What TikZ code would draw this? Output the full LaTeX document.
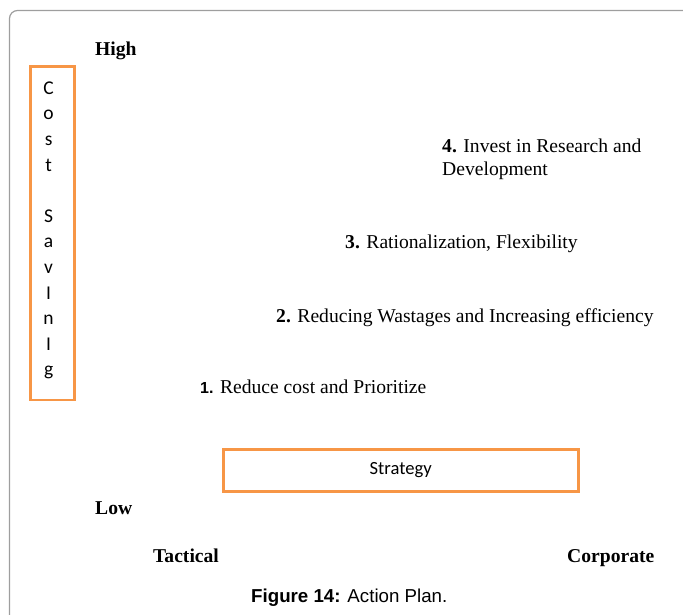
\documentclass[tikz,border=0pt]{standalone}
\usepackage{fontspec}
\setmainfont{Liberation Serif}
\newfontfamily\captionfont{Liberation Sans}
\newfontfamily\boxfont{Carlito}
\definecolor{boxorange}{HTML}{F79646}
\definecolor{framegrey}{HTML}{9E9E9E}
\newcommand{\numsans}[1]{{\captionfont\fontsize{16}{19}\selectfont\bfseries #1}}

\begin{document}
\begin{tikzpicture}[x=1pt,y=-1pt,
    orangebox/.style={draw=boxorange,line width=2.8pt,inner sep=0pt},
    plaintext/.style={inner sep=0pt,font=\fontsize{19.6}{23.4}\selectfont,align=left},
    axislabel/.style={plaintext,font=\fontsize{19.6}{23.4}\selectfont\bfseries}]
    \useasboundingbox (0,0) rectangle (683,614);
    \begin{scope}
      \clip (0,0) rectangle (683,614);
      \draw[framegrey,line width=1.2pt,rounded corners=8pt] (9.5,10.5) rectangle (700,660);
    \end{scope}
    \node[axislabel,anchor=base west] (high) at (95,55) {High};
    \node[axislabel,anchor=base west] (low) at (95,514) {Low};
    \node[axislabel,anchor=base west] (tactical) at (153,562) {Tactical};
    \node[axislabel,anchor=base west] (corporate) at (567,562) {Corporate};
    % vertical axis label and its box
    \node[inner sep=0pt,align=center,font=\boxfont\fontsize{19.5}{25.6}\selectfont] (costsaving) at (48.6,230.5)
      {C\\o\\s\\t\\[25.6pt]S\\a\\v\\I\\n\\I\\g};
    \draw[orangebox] (30.5,66.3) rectangle (74.7,400);
    \node[plaintext,anchor=base west] (step4) at (442,175.4) {\textbf{4.} Invest in Research and\\Development};
    \node[plaintext,anchor=base west] (step3) at (345,248) {\textbf{3.} Rationalization, Flexibility};
    \node[plaintext,anchor=base west] (step2) at (276,322) {\textbf{2.} Reducing Wastages and Increasing efficiency};
    \node[plaintext,anchor=base west] (step1) at (200,393) {\numsans{1.} Reduce cost and Prioritize};
    \node[orangebox,minimum width=355pt,minimum height=41.6pt,
      font=\boxfont\fontsize{18.6}{22}\selectfont] (strategy) at (400.7,470.5) {Strategy};
    \node[inner sep=0pt,anchor=base west,font=\captionfont\fontsize{18.7}{22}\selectfont] (caption) at (251,602)
      {\textbf{Figure 14:} Action Plan.};
  \end{tikzpicture}
\end{document}
